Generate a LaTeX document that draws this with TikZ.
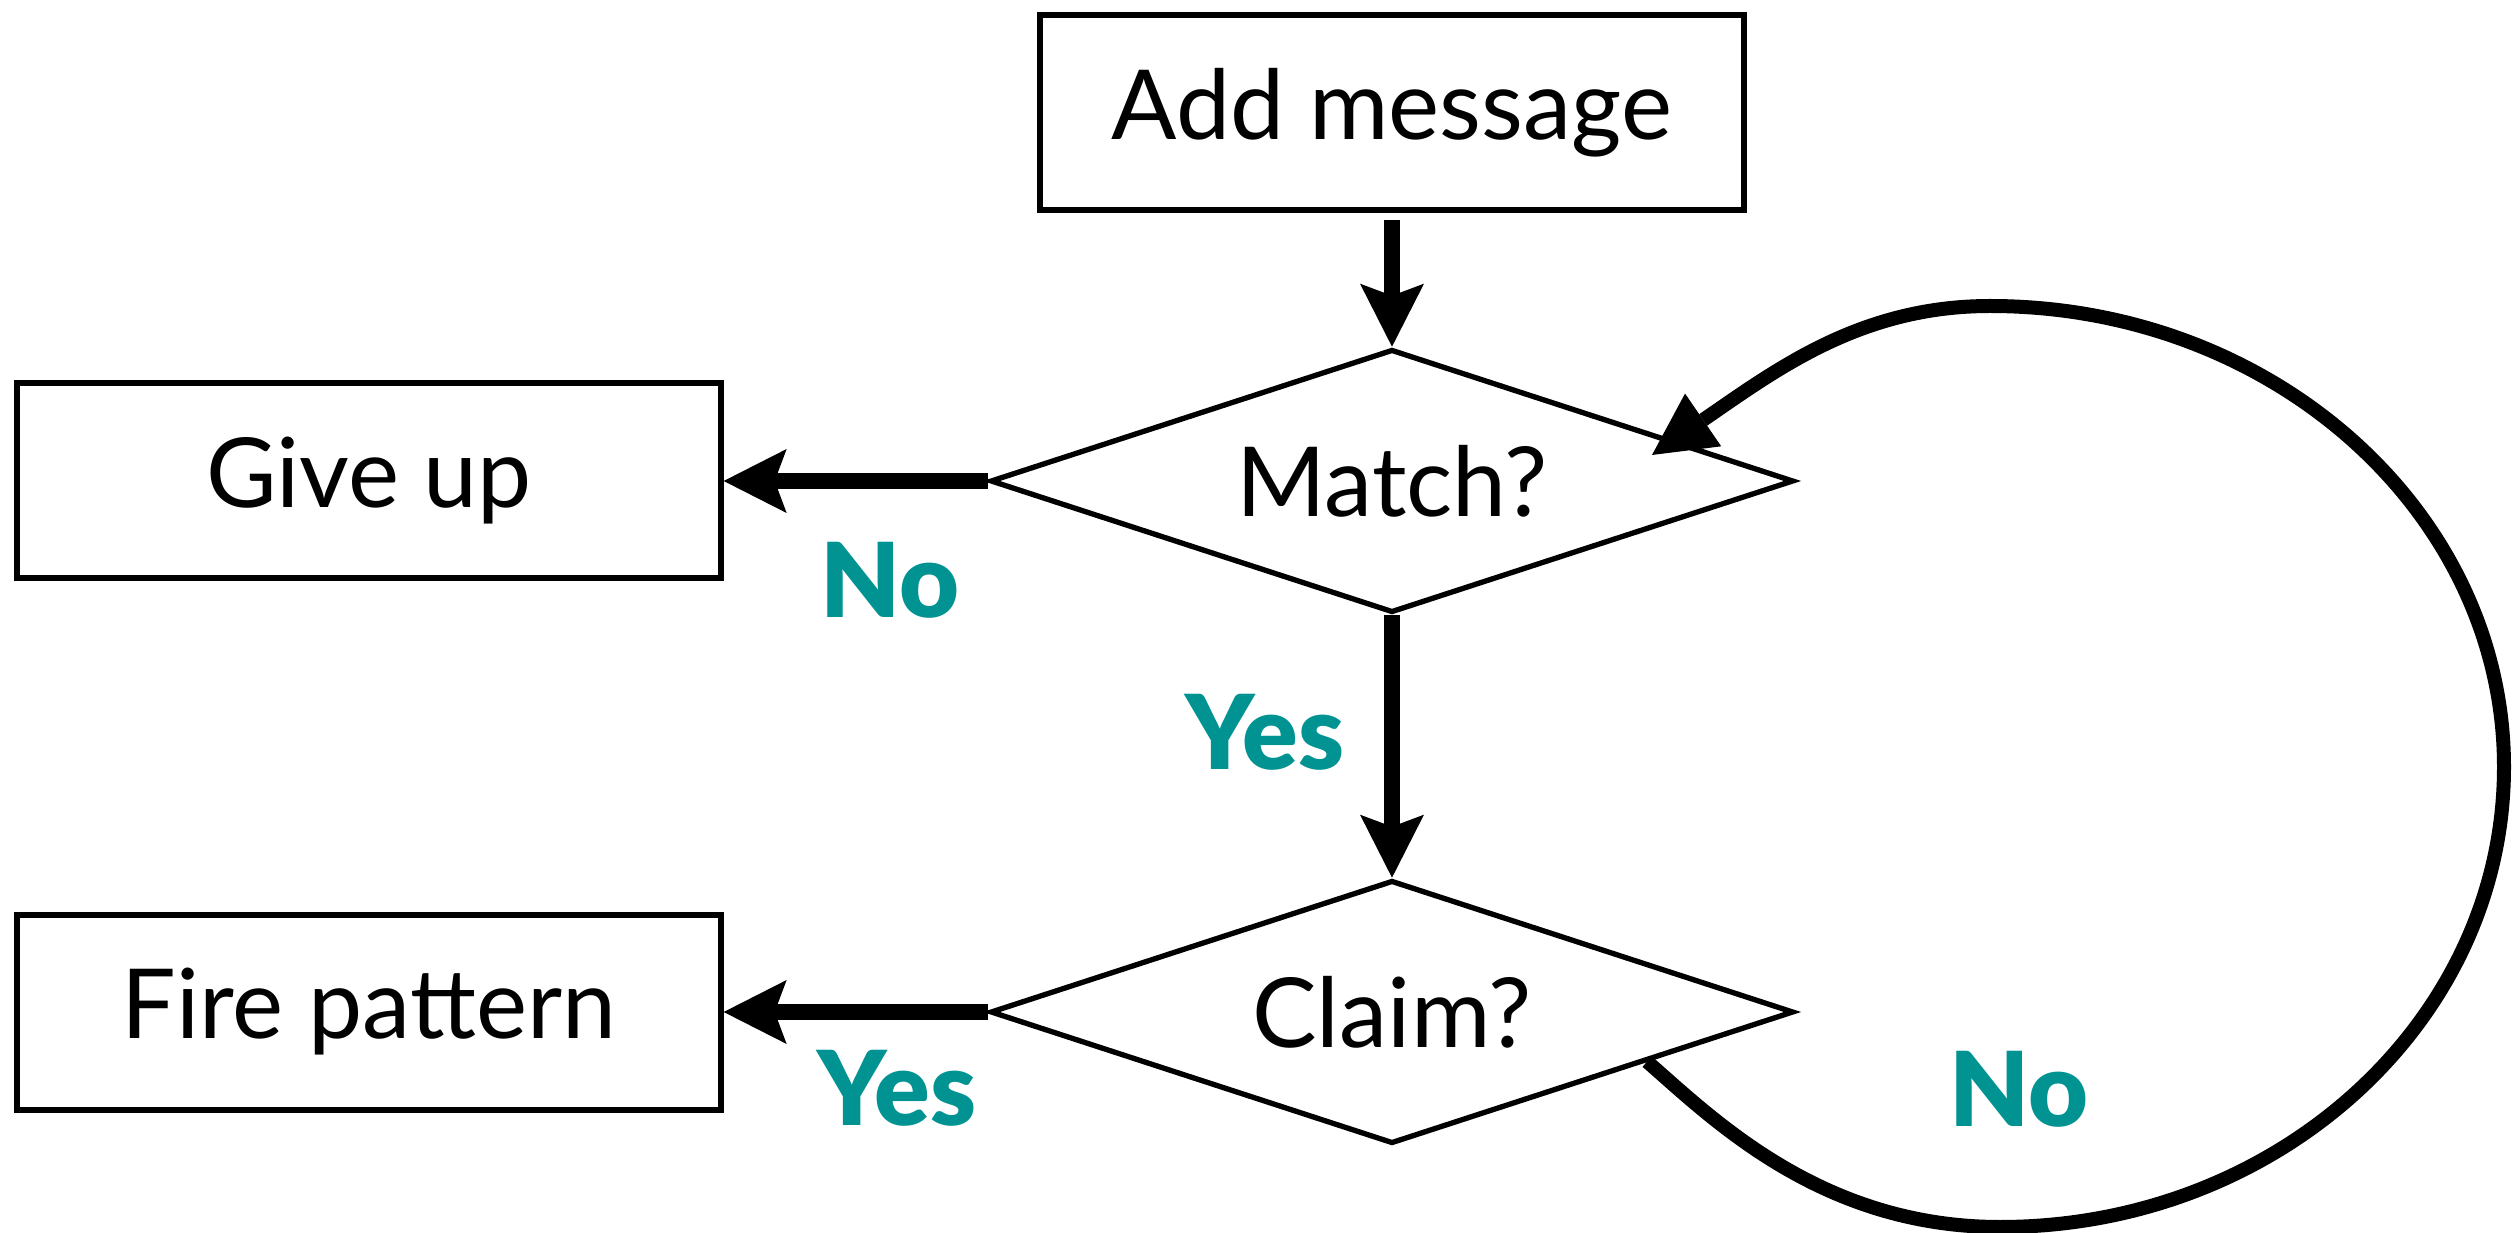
\documentclass[tikz,border=0pt]{standalone}
\usepackage{fontspec}
\setmainfont{Lato}
\newfontfamily\answerfont{Lato Black}
\usetikzlibrary{shapes.geometric, arrows.meta, calc}
\definecolor{answerteal}{RGB}{0,147,146}
\tikzstyle{box} = [rectangle, draw, line width=1.8pt, minimum width=211pt, minimum height=58.5pt, inner sep=0pt, font=\fontsize{29}{34}\selectfont]
\tikzstyle{decision} = [diamond, draw, line width=1.6pt, aspect=3, minimum width=241pt, minimum height=79pt, inner sep=0pt, font=\fontsize{29}{34}\selectfont]
\tikzstyle{arrow} = [line width=4.8pt, -{Stealth[length=18.9pt, width=19.2pt, inset=3.6pt, line width=0pt]}]
\tikzstyle{loopline} = [line width=4.2pt, -{Triangle[length=18.6pt, width=19.2pt, line width=0pt]}]
\tikzstyle{answer} = [text=answerteal, inner sep=0pt, font=\fontsize{31}{36}\answerfont]

\begin{document}
\begin{tikzpicture}[x=0.3pt,y=0.3pt,yscale=-1,xscale=1]
\useasboundingbox (0,0) rectangle (2517,1233);

%Flowchart: Process
\node (add) at (1392,113) [box] {Add message};
\node (giveup) at (369,481) [box] {Give up};
\node (fire) at (369,1012) [box] {Fire pattern};
%Flowchart: Decision
\node (match) at (1392,481) [decision] {Match?};
\node (claim) at (1392,1012) [decision] {Claim?};

%Straight Lines
\draw [arrow, shorten <=2pt] (add.south) -- (match.north);
\draw [arrow] (match.west) -- (giveup.east);
\draw [arrow] (match.south) -- (claim.north);
\draw [arrow] (claim.west) -- (fire.east);
%Curve Lines
\draw [loopline] (claim.-11) .. controls (1711,1117) and (1820,1227) .. (2000,1227)
  .. controls (2278,1227) and (2504,1021) .. (2504,767)
  .. controls (2504,513) and (2274,306) .. (1990,306)
  .. controls (1860,306) and (1776,370) .. ($(match.center)+(260,-26)$);

% Text Node
\node (nomatch) at (890,618) [answer, anchor=base] {No};
\node (yesmatch) at (1345,770) [answer, anchor=base east] {Yes};
\node (yesclaim) at (897,1125) [answer, anchor=base] {Yes};
\node (noclaim) at (2019,1126) [answer, anchor=base] {No};

\end{tikzpicture}
\end{document}
